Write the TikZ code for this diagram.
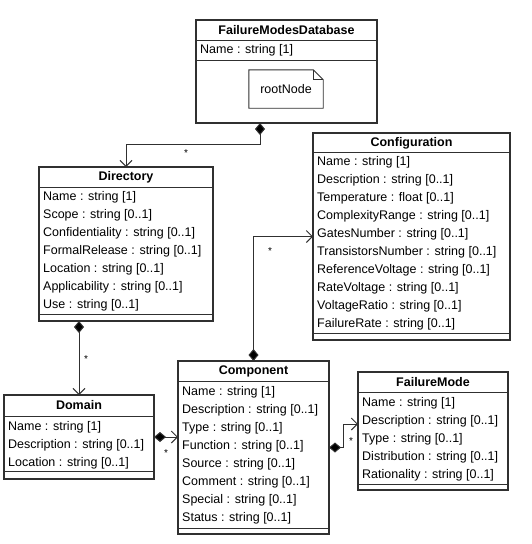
\documentclass[tikz,border=0pt]{standalone}
\usepackage{fontspec}
\setmainfont{Liberation Sans}
\usetikzlibrary{arrows.meta}
\definecolor{umlline}{HTML}{303030}
\tikzset{
  box/.style={draw=umlline, line width=1.1pt, fill=white, anchor=north west, inner sep=0pt, outer sep=0pt},
  sep/.style={draw=umlline, line width=1pt},
  title/.style={font=\fontsize{12.5}{15}\selectfont\bfseries, inner sep=0pt, anchor=center},
  attr/.style={font=\fontsize{12.5}{15}\selectfont, inner sep=0pt, anchor=west},
  conn/.style={draw=umlline, line width=1pt, {Diamond[length=12pt,width=10pt,fill=black]}-{Straight Barb[length=6pt,width=12pt]}},
  mult/.style={font=\fontsize{10}{12}\selectfont, inner sep=0pt},
}
\begin{document}
\begin{tikzpicture}[x=1pt,y=-1pt]
\useasboundingbox (0,0) rectangle (531,544);

% FailureModesDatabase
\node[box, minimum width=181pt, minimum height=103pt] (fmdb) at (196,20) {};
\draw[sep] ([yshift=-20pt]fmdb.north west) -- ([yshift=-20pt]fmdb.north east);
\draw[sep] ([yshift=-40pt]fmdb.north west) -- ([yshift=-40pt]fmdb.north east);
\node[title] (fmdbT) at (286.5,30) {FailureModesDatabase};
\node[attr] (fmdbA) at (200,50) {Name : string [1]};
\node[font=\fontsize{12.5}{15}\selectfont, minimum width=74pt, minimum height=38pt, inner sep=0pt] (root) at (286,89) {rootNode};
\draw[umlline, line width=0.9pt] (root.north west) -- ([xshift=-10pt]root.north east) -- ([yshift=-10pt]root.north east) -- (root.south east) -- (root.south west) -- cycle;
\draw[umlline, line width=0.8pt] ([xshift=-10pt]root.north east) |- ([yshift=-10pt]root.north east);

% Directory
\node[box, minimum width=174pt, minimum height=154pt] (dir) at (39,167) {};
\draw[sep] ([yshift=-20pt]dir.north west) -- ([yshift=-20pt]dir.north east);
\draw[sep] ([yshift=-147pt]dir.north west) -- ([yshift=-147pt]dir.north east);
\node[title] (dirT) at (126,177) {Directory};
\foreach \t [count=\i from 0] in {Name : string [1], Scope : string [0..1], Confidentiality : string [0..1], FormalRelease : string [0..1], Location : string [0..1], Applicability : string [0..1], Use : string [0..1]}
  \node[attr] (dirA\i) at (43,197+18*\i) {\t};

% Configuration
\node[box, minimum width=197pt, minimum height=207pt] (conf) at (313,133) {};
\draw[sep] ([yshift=-19pt]conf.north west) -- ([yshift=-19pt]conf.north east);
\draw[sep] ([yshift=-200pt]conf.north west) -- ([yshift=-200pt]conf.north east);
\node[title] (confT) at (411.5,143) {Configuration};
\foreach \t [count=\i from 0] in {Name : string [1], Description : string [0..1], Temperature : float [0..1], ComplexityRange : string [0..1], GatesNumber : string [0..1], TransistorsNumber : string [0..1], ReferenceVoltage : string [0..1], RateVoltage : string [0..1], VoltageRatio : string [0..1], FailureRate : string [0..1]}
  \node[attr] (confA\i) at (317,162+18*\i) {\t};

% Domain
\node[box, minimum width=150pt, minimum height=84pt] (dom) at (4,395) {};
\draw[sep] ([yshift=-21pt]dom.north west) -- ([yshift=-21pt]dom.north east);
\draw[sep] ([yshift=-76pt]dom.north west) -- ([yshift=-76pt]dom.north east);
\node[title] (domT) at (79,405.5) {Domain};
\foreach \t [count=\i from 0] in {Name : string [1], Description : string [0..1], Location : string [0..1]}
  \node[attr] (domA\i) at (8,427+18*\i) {\t};

% Component
\node[box, minimum width=151pt, minimum height=173pt] (comp) at (178,361) {};
\draw[sep] ([yshift=-20pt]comp.north west) -- ([yshift=-20pt]comp.north east);
\draw[sep] ([yshift=-167pt]comp.north west) -- ([yshift=-167pt]comp.north east);
\node[title] (compT) at (253.5,371) {Component};
\foreach \t [count=\i from 0] in {Name : string [1], Description : string [0..1], Type : string [0..1], Function : string [0..1], Source : string [0..1], Comment : string [0..1], Special : string [0..1], Status : string [0..1]}
  \node[attr] (compA\i) at (182,392+18*\i) {\t};

% FailureMode
\node[box, minimum width=150pt, minimum height=118pt] (fm) at (358,372) {};
\draw[sep] ([yshift=-20pt]fm.north west) -- ([yshift=-20pt]fm.north east);
\draw[sep] ([yshift=-112pt]fm.north west) -- ([yshift=-112pt]fm.north east);
\node[title] (fmT) at (433,382) {FailureMode};
\foreach \t [count=\i from 0] in {Name : string [1], Description : string [0..1], Type : string [0..1], Distribution : string [0..1], Rationality : string [0..1]}
  \node[attr] (fmA\i) at (362,403+18*\i) {\t};

% Connectors
\draw[conn] ([xshift=-26.5pt]fmdb.south) -- ++(0,21) -| (dir.north);
\draw[conn] ([xshift=-47pt]dir.south) -- (dom.north);
\draw[conn] (dom.east) -- (dom.east -| comp.west);
\draw[conn] (comp.north) |- (conf.west);
\draw[conn] (comp.east) -- ++(14,0) |- ([yshift=7pt]fm.west);

% Multiplicities
\node[mult] (m1) at (186,153) {*};
\node[mult] (m2) at (86,359) {*};
\node[mult] (m3) at (166,453) {*};
\node[mult] (m4) at (270,251) {*};
\node[mult] (m5) at (351,441) {*};
\end{tikzpicture}
\end{document}
